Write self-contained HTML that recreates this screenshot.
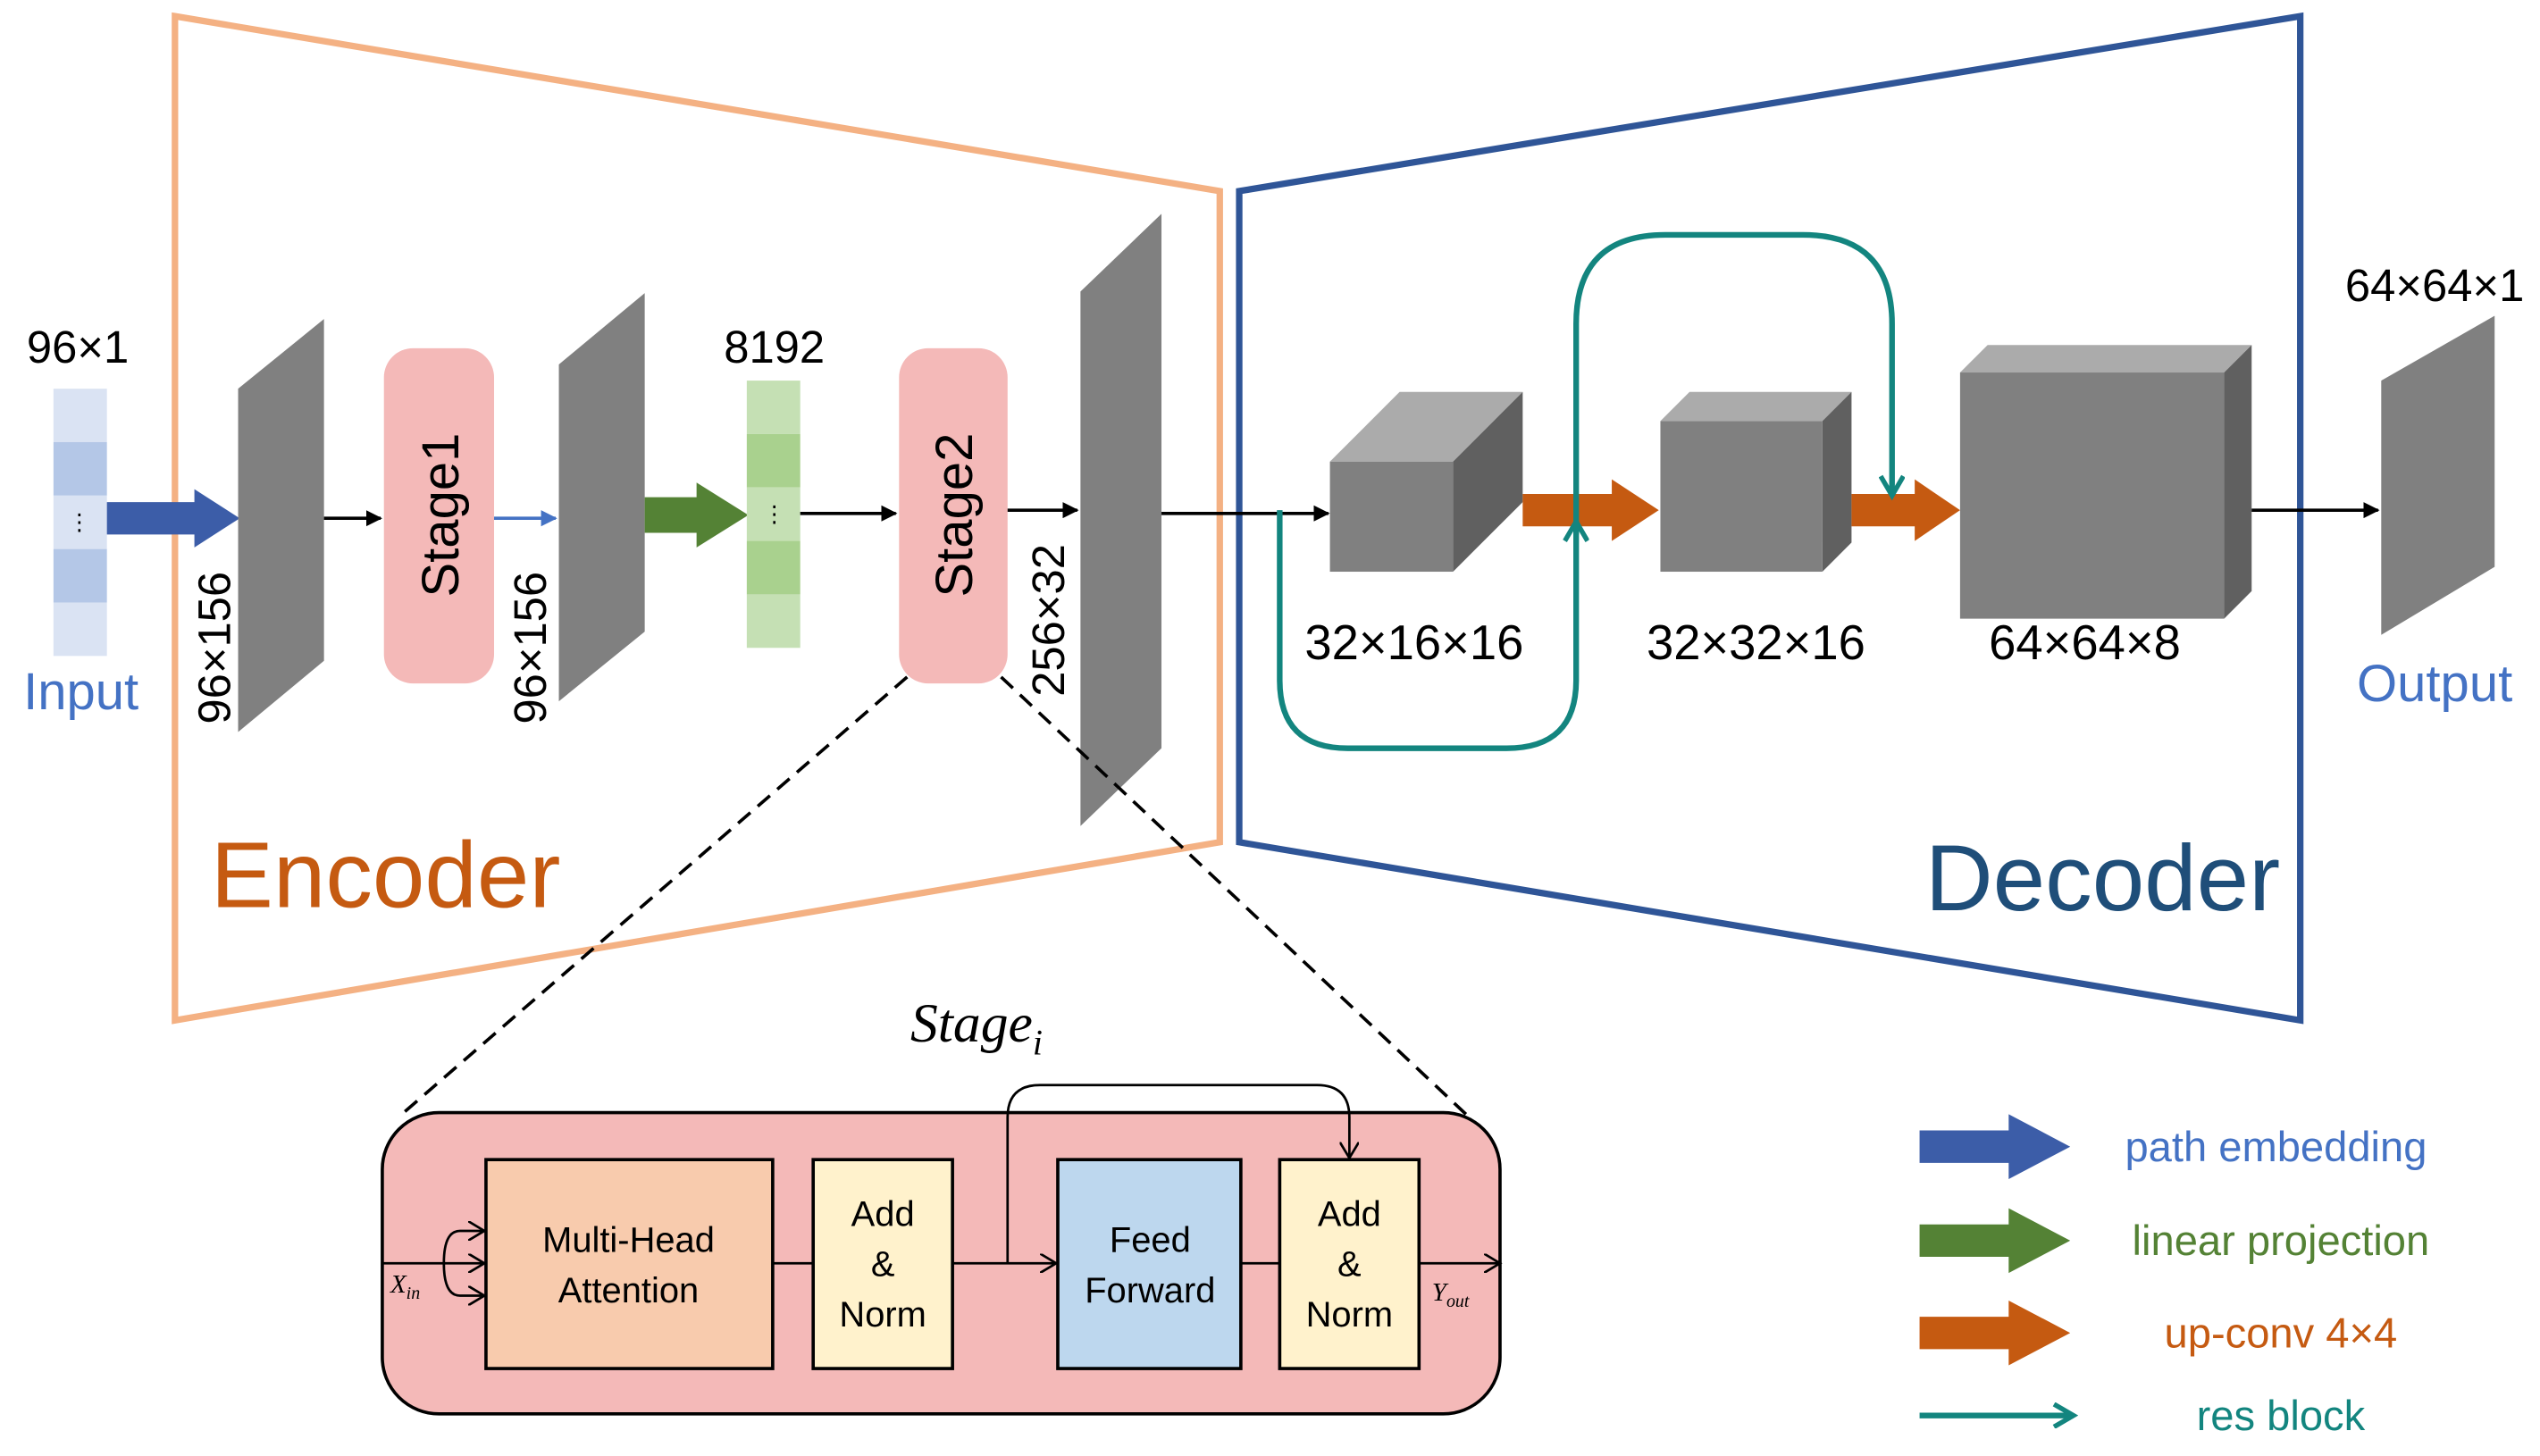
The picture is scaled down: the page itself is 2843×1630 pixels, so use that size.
<!DOCTYPE html>
<html><head><meta charset="utf-8"><style>
html,body{margin:0;padding:0;background:#fff;}
svg{display:block;}
text{font-family:"Liberation Sans","DejaVu Sans",sans-serif;}
</style></head><body>
<svg width="2843" height="1630" viewBox="0 0 1568 899" xmlns="http://www.w3.org/2000/svg">
<defs>
<marker id="ab" markerWidth="10" markerHeight="10" refX="9" refY="5" orient="auto" markerUnits="userSpaceOnUse"><path d="M0,0 L10,5 L0,10 z" fill="#000"/></marker>
<marker id="abl" markerWidth="10" markerHeight="10" refX="9" refY="5" orient="auto" markerUnits="userSpaceOnUse"><path d="M0,0 L10,5 L0,10 z" fill="#4472C4"/></marker>
<marker id="ao" markerWidth="12" markerHeight="12" refX="10" refY="6" orient="auto" markerUnits="userSpaceOnUse"><path d="M0,0 L10,6 L0,12" fill="none" stroke="#000" stroke-width="1.5"/></marker>
<marker id="at" markerWidth="16" markerHeight="16" refX="13" refY="8" orient="auto" markerUnits="userSpaceOnUse"><path d="M1,1 L13,8 L1,15" fill="none" stroke="#13857F" stroke-width="3"/></marker>
</defs>

<!-- trapezoids -->
<polygon points="108,10 753,118 753,520 108,630" fill="none" stroke="#F4B183" stroke-width="4"/>
<polygon points="765,118 1420,10 1420,630 765,520" fill="none" stroke="#2F5597" stroke-width="4"/>

<!-- input column -->
<rect x="33" y="240" width="33" height="33" fill="#DAE3F3"/>
<rect x="33" y="273" width="33" height="33" fill="#B4C7E7"/>
<rect x="33" y="306" width="33" height="33" fill="#DAE3F3"/>
<rect x="33" y="339" width="33" height="33" fill="#B4C7E7"/>
<rect x="33" y="372" width="33" height="33" fill="#DAE3F3"/>
<text x="49" y="327" font-size="14" text-anchor="middle">⋮</text>
<text x="48" y="224" font-size="28" text-anchor="middle">96×1</text>
<text x="50" y="438" font-size="32" text-anchor="middle" fill="#4472C4">Input</text>

<!-- blue fat arrow -->
<polygon points="66,310 120,310 120,302 148,320 120,338 120,330 66,330" fill="#3C5DA8"/>

<!-- parallelogram 1 -->
<polygon points="147,240 200,197 200,408 147,452" fill="#808080"/>
<text transform="translate(142,400) rotate(-90)" font-size="28" text-anchor="middle">96×156</text>
<line x1="200" y1="320" x2="235" y2="320" stroke="#000" stroke-width="2" marker-end="url(#ab)"/>

<rect x="237" y="215" width="68" height="207" rx="18" fill="#F4B9B8"/>
<text transform="translate(283,318) rotate(-90)" font-size="32" text-anchor="middle">Stage1</text>
<line x1="305" y1="320" x2="343" y2="320" stroke="#4472C4" stroke-width="2" marker-end="url(#abl)"/>

<polygon points="345,225 398,181 398,390 345,433" fill="#808080"/>
<text transform="translate(337,400) rotate(-90)" font-size="28" text-anchor="middle">96×156</text>

<!-- green arrow -->
<polygon points="398,307 430,307 430,298 462,318 430,338 430,329 398,329" fill="#548235"/>

<!-- green column -->
<rect x="461" y="235" width="33" height="33" fill="#C5E0B4"/>
<rect x="461" y="268" width="33" height="33" fill="#A9D18E"/>
<rect x="461" y="301" width="33" height="33" fill="#C5E0B4"/>
<rect x="461" y="334" width="33" height="33" fill="#A9D18E"/>
<rect x="461" y="367" width="33" height="33" fill="#C5E0B4"/>
<text x="478" y="322" font-size="14" text-anchor="middle">⋮</text>
<text x="478" y="224" font-size="28" text-anchor="middle">8192</text>
<line x1="494" y1="317" x2="553" y2="317" stroke="#000" stroke-width="2" marker-end="url(#ab)"/>

<rect x="555" y="215" width="67" height="207" rx="18" fill="#F4B9B8"/>
<text transform="translate(600,318) rotate(-90)" font-size="32" text-anchor="middle">Stage2</text>
<line x1="622" y1="315" x2="665" y2="315" stroke="#000" stroke-width="2" marker-end="url(#ab)"/>
<text transform="translate(657,383) rotate(-90)" font-size="28" text-anchor="middle">256×32</text>

<polygon points="667,180 717,132 717,462 667,510" fill="#808080"/>
<line x1="717" y1="317" x2="820" y2="317" stroke="#000" stroke-width="2" marker-end="url(#ab)"/>

<!-- cube 1 -->
<polygon points="821,285 864,242 940,242 897,285" fill="#ABABAB"/>
<polygon points="897,285 940,242 940,310 897,353" fill="#606060"/>
<rect x="821" y="285" width="76" height="68" fill="#808080"/>
<text x="873" y="407" font-size="30" text-anchor="middle">32×16×16</text>

<polygon points="940,305 995,305 995,296 1024,315 995,334 995,325 940,325" fill="#C55A11"/>

<!-- cube 2 -->
<polygon points="1025,260 1043,242 1143,242 1125,260" fill="#ABABAB"/>
<polygon points="1125,260 1143,242 1143,335 1125,353" fill="#606060"/>
<rect x="1025" y="260" width="100" height="93" fill="#808080"/>
<text x="1084" y="407" font-size="30" text-anchor="middle">32×32×16</text>

<polygon points="1143,305 1182,305 1182,296 1210,315 1182,334 1182,325 1143,325" fill="#C55A11"/>

<!-- cube 3 -->
<polygon points="1210,230 1227,213 1390,213 1373,230" fill="#ABABAB"/>
<polygon points="1373,230 1390,213 1390,365 1373,382" fill="#606060"/>
<rect x="1210" y="230" width="163" height="152" fill="#808080"/>
<text x="1287" y="407" font-size="30" text-anchor="middle">64×64×8</text>

<line x1="1390" y1="315" x2="1468" y2="315" stroke="#000" stroke-width="2" marker-end="url(#ab)"/>
<polygon points="1470,235 1540,195 1540,350 1470,392" fill="#808080"/>
<text x="1503" y="186" font-size="28" text-anchor="middle">64×64×1</text>
<text x="1503" y="433" font-size="32" text-anchor="middle" fill="#4472C4">Output</text>

<!-- res blocks -->
<path d="M790,315 L790,420 Q790,462 832,462 L930,462 Q973,462 973,420 L973,322" fill="none" stroke="#13857F" stroke-width="3.5" marker-end="url(#at)"/>
<path d="M973,330 L973,200 Q973,145 1028,145 L1113,145 Q1168,145 1168,200 L1168,306" fill="none" stroke="#13857F" stroke-width="3.5" marker-end="url(#at)"/>

<text x="238" y="560" font-size="58" text-anchor="middle" fill="#C55A11">Encoder</text>
<text x="1298" y="562" font-size="58" text-anchor="middle" fill="#1F4E79">Decoder</text>

<!-- dashed -->
<line x1="560" y1="418" x2="248" y2="688" stroke="#000" stroke-width="2" stroke-dasharray="10,6"/>
<line x1="618" y1="418" x2="905" y2="688" stroke="#000" stroke-width="2" stroke-dasharray="10,6"/>

<text x="562" y="643" font-size="34" font-style="italic" font-family="Liberation Serif,serif" style="font-family:'Liberation Serif',serif">Stage<tspan font-size="22" dy="8">i</tspan></text>

<!-- stage box -->
<rect x="236" y="687" width="690" height="186" rx="35" fill="#F4B9B8" stroke="#000" stroke-width="2"/>
<rect x="300" y="716" width="177" height="129" fill="#F8CBAD" stroke="#000" stroke-width="2"/>
<text x="388" y="773" font-size="22" text-anchor="middle">Multi-Head</text>
<text x="388" y="804" font-size="22" text-anchor="middle">Attention</text>
<rect x="502" y="716" width="86" height="129" fill="#FFF2CC" stroke="#000" stroke-width="2"/>
<text x="545" y="757" font-size="22" text-anchor="middle">Add</text>
<text x="545" y="788" font-size="22" text-anchor="middle">&amp;</text>
<text x="545" y="819" font-size="22" text-anchor="middle">Norm</text>
<rect x="653" y="716" width="113" height="129" fill="#BDD7EE" stroke="#000" stroke-width="2"/>
<text x="710" y="773" font-size="22" text-anchor="middle">Feed</text>
<text x="710" y="804" font-size="22" text-anchor="middle">Forward</text>
<rect x="790" y="716" width="86" height="129" fill="#FFF2CC" stroke="#000" stroke-width="2"/>
<text x="833" y="757" font-size="22" text-anchor="middle">Add</text>
<text x="833" y="788" font-size="22" text-anchor="middle">&amp;</text>
<text x="833" y="819" font-size="22" text-anchor="middle">Norm</text>

<g fill="none" stroke="#000" stroke-width="1.5">
<line x1="236" y1="780" x2="274" y2="780"/>
<path d="M274,780 Q274,760 284,760 L299,760" marker-end="url(#ao)"/>
<line x1="274" y1="780" x2="299" y2="780" marker-end="url(#ao)"/>
<path d="M274,780 Q274,800 284,800 L299,800" marker-end="url(#ao)"/>
<line x1="477" y1="780" x2="502" y2="780"/>
<line x1="588" y1="780" x2="652" y2="780" marker-end="url(#ao)"/>
<line x1="766" y1="780" x2="790" y2="780"/>
<line x1="876" y1="780" x2="926" y2="780" marker-end="url(#ao)"/>
<path d="M622,780 L622,690 Q622,670 642,670 L813,670 Q833,670 833,690 L833,715" marker-end="url(#ao)"/>
</g>
<text x="241" y="798" font-size="16" font-style="italic" style="font-family:'Liberation Serif',serif">X<tspan font-size="11" dy="4">in</tspan></text>
<text x="884" y="803" font-size="16" font-style="italic" style="font-family:'Liberation Serif',serif">Y<tspan font-size="11" dy="4">out</tspan></text>

<!-- legend -->
<polygon points="1185,698 1240,698 1240,688 1278,708 1240,728 1240,718 1185,718" fill="#3C5DA8"/>
<polygon points="1185,756 1240,756 1240,746 1278,766 1240,786 1240,776 1185,776" fill="#548235"/>
<polygon points="1185,813 1240,813 1240,803 1278,823 1240,843 1240,833 1185,833" fill="#C55A11"/>
<line x1="1185" y1="874" x2="1280" y2="874" stroke="#13857F" stroke-width="3.5" marker-end="url(#at)"/>
<text x="1405" y="717" font-size="26" text-anchor="middle" fill="#4472C4">path embedding</text>
<text x="1408" y="775" font-size="26" text-anchor="middle" fill="#548235">linear projection</text>
<text x="1408" y="832" font-size="26" text-anchor="middle" fill="#C55A11">up-conv 4×4</text>
<text x="1408" y="883" font-size="26" text-anchor="middle" fill="#13857F">res block</text>
</svg>
</body></html>
